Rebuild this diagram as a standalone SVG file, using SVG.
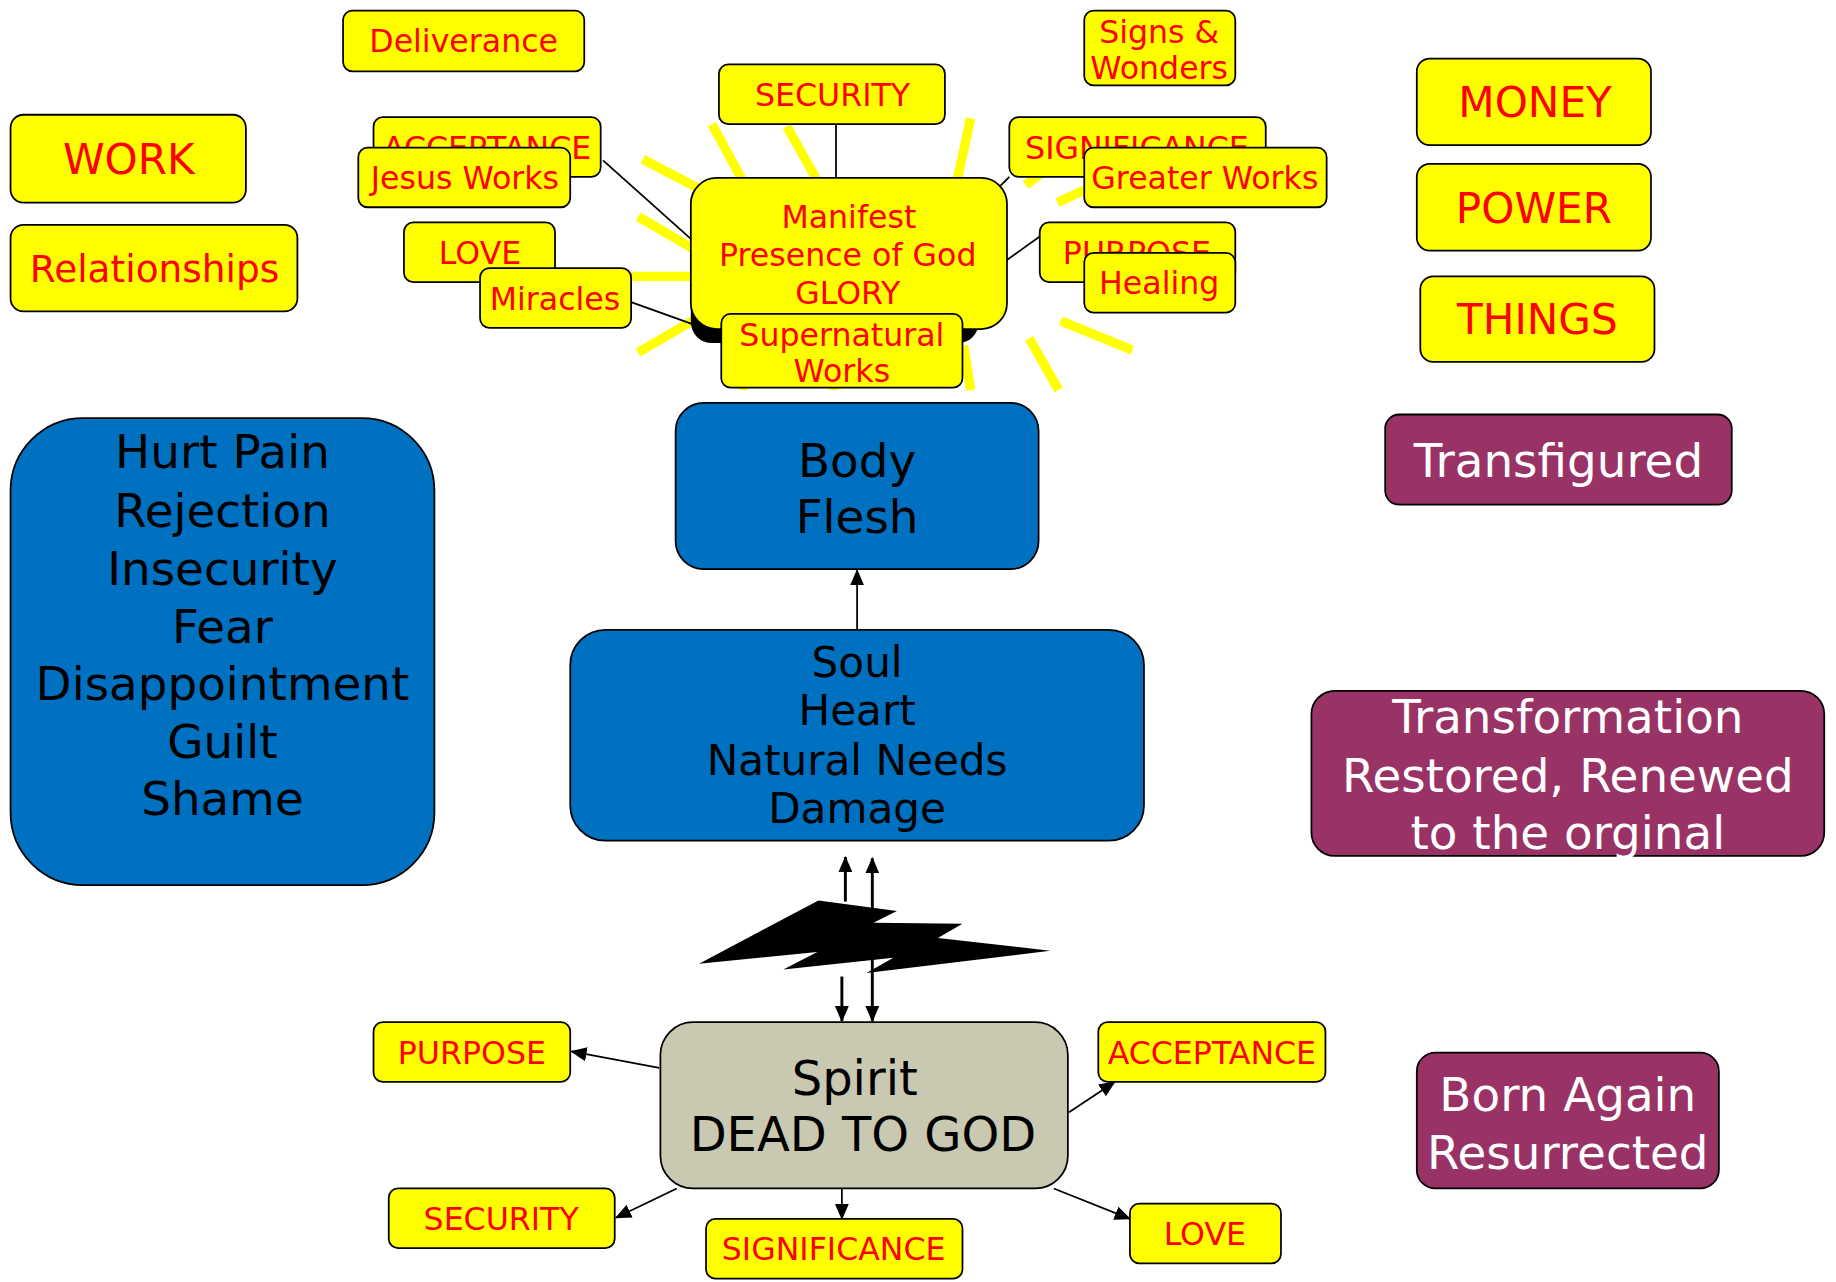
<svg xmlns="http://www.w3.org/2000/svg" width="1836" height="1282" viewBox="0 0 1836 1282">
<style>
.y{fill:#FFFF00;stroke:#000;stroke-width:1.5}
.b{fill:#0070C0;stroke:#000;stroke-width:1.5}
.p{fill:#993366;stroke:#000;stroke-width:1.5}
.g{fill:#C9C9B1;stroke:#000;stroke-width:1.5}
text{font-family:"DejaVu Sans","Verdana","Liberation Sans",sans-serif;text-anchor:middle}
.r{fill:#FF0000;font-size:27px}
.r36{fill:#FF0000;font-size:36px}
.r32{fill:#FF0000;font-size:32px}
.w{fill:#FFFFFF;font-size:40px}
.k40{fill:#000;font-size:40px}
.k36{fill:#000;font-size:36px}
.k41{fill:#000;font-size:41px}
.ray{stroke:#FFFF00;stroke-width:8;fill:none}
.ln{stroke:#000;stroke-width:1.5;fill:none}
.ar{stroke:#000;stroke-width:1.5;fill:none;marker-end:url(#ah)}
.ar2{stroke:#000;stroke-width:2.5;fill:none;marker-end:url(#ah)}
</style>
<defs>
<marker id="ah" markerUnits="userSpaceOnUse" markerWidth="14" markerHeight="12" refX="13" refY="6" orient="auto-start-reverse" viewBox="0 0 14 12">
<path d="M0,0 L14,6 L0,12 z" fill="#000"/>
</marker>
</defs>
<rect width="1836" height="1282" fill="#FFFFFF"/>
<g transform="scale(1.1709)">
<g id="sun-rays">
<line class="ray" x1="549" y1="136" x2="610" y2="168"/>
<line class="ray" x1="545" y1="185" x2="605" y2="220"/>
<line class="ray" x1="538" y1="236" x2="600" y2="236"/>
<line class="ray" x1="545" y1="301" x2="605" y2="266"/>
<line class="ray" x1="608" y1="106" x2="640" y2="165"/>
<line class="ray" x1="672" y1="108" x2="704" y2="165"/>
<line class="ray" x1="829" y1="101" x2="815" y2="165"/>
<line class="ray" x1="876" y1="158" x2="892" y2="146"/>
<line class="ray" x1="903" y1="173" x2="940" y2="156"/>
<line class="ray" x1="906" y1="274" x2="967" y2="299"/>
<line class="ray" x1="879" y1="289" x2="904" y2="333"/>
<line class="ray" x1="823" y1="295" x2="829" y2="333"/>
<line class="ray" x1="642" y1="292" x2="634" y2="333"/>
<line class="ray" x1="712" y1="292" x2="712" y2="333"/>
</g>
<g id="connectors">
<line class="ln" x1="714" y1="106" x2="714" y2="153"/>
<line class="ln" x1="515" y1="137" x2="590" y2="204"/>
<line class="ln" x1="539" y1="258" x2="592" y2="277"/>
<line class="ln" x1="853" y1="160" x2="862" y2="151"/>
<line class="ln" x1="860" y1="222" x2="888" y2="202"/>
<line class="ar" x1="732" y1="538" x2="732" y2="487"/>
<line class="ar2" x1="722" y1="770" x2="722" y2="732"/>
<line class="ar2" x1="745" y1="733" x2="745" y2="872" style="marker-start:url(#ah)"/>
<line class="ar2" x1="719" y1="834" x2="719" y2="872"/>
<line class="ar" x1="563" y1="912" x2="488" y2="898"/>
<line class="ar" x1="913" y1="950" x2="952" y2="924"/>
<line class="ar" x1="578" y1="1015" x2="526" y2="1040"/>
<line class="ar" x1="719" y1="1015" x2="719" y2="1041"/>
<line class="ar" x1="900" y1="1015" x2="965" y2="1041"/>
</g>
<g id="lightning">
<polygon points="597,823 699,769 766,778 746,788 822,789 801,801 897,812 740,831 763,818 669,828 698,813" fill="#000"/>
</g>
<g id="deliverance"><rect class="y" x="293" y="9" width="206" height="52" rx="8"/><text class="r" x="396" y="44.5">Deliverance</text></g>
<g id="security-top"><rect class="y" x="614" y="55" width="193" height="51" rx="8"/><text class="r" x="711" y="90.5">SECURITY</text></g>
<g id="signs-wonders"><rect class="y" x="926" y="9" width="129" height="64" rx="8"/><text class="r" x="990" y="36.5">Signs &amp;</text><text class="r" x="990" y="67.5">Wonders</text></g>
<g id="acceptance-top"><rect class="y" x="319" y="100" width="194" height="51" rx="8"/><text class="r" x="416" y="135.5">ACCEPTANCE</text></g>
<g id="jesus-works"><rect class="y" x="306" y="126" width="181" height="51" rx="8"/><text class="r" x="397" y="161.5">Jesus Works</text></g>
<g id="love-top"><rect class="y" x="345" y="190" width="129" height="51" rx="8"/><text class="r" x="410" y="225.5">LOVE</text></g>
<g id="miracles"><rect class="y" x="410" y="229" width="129" height="51" rx="8"/><text class="r" x="474" y="264.5">Miracles</text></g>
<g id="significance-top"><rect class="y" x="862" y="100" width="219" height="51" rx="8"/><text class="r" x="971" y="135.5">SIGNIFICANCE</text></g>
<g id="greater-works"><rect class="y" x="926" y="126" width="207" height="51" rx="8"/><text class="r" x="1029" y="161.5">Greater Works</text></g>
<g id="purpose-top"><rect class="y" x="888" y="190" width="167" height="51" rx="8"/><text class="r" x="971" y="225.5">PURPOSE</text></g>
<g id="healing"><rect class="y" x="926" y="216" width="129" height="51" rx="8"/><text class="r" x="990" y="251.5">Healing</text></g>
<g id="manifest">
<rect x="590" y="170" width="246" height="123" rx="18" fill="#000"/>
<rect class="y" x="590" y="152" width="270" height="129" rx="22"/>
<text class="r" x="725" y="194.5">Manifest</text>
<text class="r" x="724" y="227.5">Presence of God</text>
<text class="r" x="724" y="259.5">GLORY</text>
</g>
<g id="supernatural"><rect class="y" x="616" y="268" width="206" height="63" rx="8"/><text class="r" x="719" y="295.5">Supernatural</text><text class="r" x="719" y="326.5">Works</text></g>
<g id="work"><rect class="y" x="9" y="98" width="201" height="75" rx="11"/><text class="r36" x="110" y="148.6">WORK</text></g>
<g id="relationships"><rect class="y" x="9" y="192" width="245" height="74" rx="11"/><text class="r32" x="132" y="241">Relationships</text></g>
<g id="money"><rect class="y" x="1210" y="50" width="200" height="74" rx="11"/><text class="r36" x="1311" y="99.6">MONEY</text></g>
<g id="power"><rect class="y" x="1210" y="140" width="200" height="74" rx="11"/><text class="r36" x="1310" y="190.6">POWER</text></g>
<g id="things"><rect class="y" x="1213" y="236" width="200" height="73" rx="11"/><text class="r36" x="1313" y="285.6">THINGS</text></g>
<g id="transfigured"><rect class="p" x="1183" y="354" width="296" height="77" rx="12"/><text class="w" x="1331" y="407">Transfigured</text></g>
<g id="transformation"><rect class="p" x="1120" y="590" width="438" height="141" rx="20"/>
<text class="w" x="1339" y="626">Transformation</text>
<text class="w" x="1339" y="676">Restored, Renewed</text>
<text class="w" x="1339" y="725">to the orginal</text></g>
<g id="born-again"><rect class="p" x="1210" y="899" width="258" height="116" rx="16"/>
<text class="w" x="1339" y="949">Born Again</text>
<text class="w" x="1339" y="998">Resurrected</text></g>
<g id="hurt"><rect class="b" x="9" y="357" width="362" height="399" rx="62"/>
<text class="k40" x="190" y="400">Hurt Pain</text>
<text class="k40" x="190" y="450">Rejection</text>
<text class="k40" x="190" y="500">Insecurity</text>
<text class="k40" x="190" y="549">Fear</text>
<text class="k40" x="190" y="598">Disappointment</text>
<text class="k40" x="190" y="647">Guilt</text>
<text class="k40" x="190" y="696">Shame</text></g>
<g id="body"><rect class="b" x="577" y="344" width="310" height="142" rx="24"/>
<text class="k40" x="732" y="407">Body</text>
<text class="k40" x="732" y="455">Flesh</text></g>
<g id="soul"><rect class="b" x="487" y="538" width="490" height="180" rx="30"/>
<text class="k36" x="732" y="578.6">Soul</text>
<text class="k36" x="732" y="619.6">Heart</text>
<text class="k36" x="732" y="661.6">Natural Needs</text>
<text class="k36" x="732" y="702.6">Damage</text></g>
<g id="spirit"><rect class="g" x="564" y="873" width="348" height="142" rx="28"/>
<text class="k41" x="730" y="935.4">Spirit</text>
<text class="k41" x="737" y="983.4">DEAD TO GOD</text></g>
<g id="purpose-bottom"><rect class="y" x="319" y="873" width="168" height="51" rx="8"/><text class="r" x="403" y="908.5">PURPOSE</text></g>
<g id="acceptance-bottom"><rect class="y" x="938" y="873" width="194" height="51" rx="8"/><text class="r" x="1035" y="908.5">ACCEPTANCE</text></g>
<g id="security-bottom"><rect class="y" x="332" y="1015" width="193" height="51" rx="8"/><text class="r" x="428" y="1050.5">SECURITY</text></g>
<g id="significance-bottom"><rect class="y" x="603" y="1041" width="219" height="51" rx="8"/><text class="r" x="712" y="1076.5">SIGNIFICANCE</text></g>
<g id="love-bottom"><rect class="y" x="965" y="1028" width="129" height="51" rx="8"/><text class="r" x="1029" y="1063.5">LOVE</text></g>
</g>
</svg>
